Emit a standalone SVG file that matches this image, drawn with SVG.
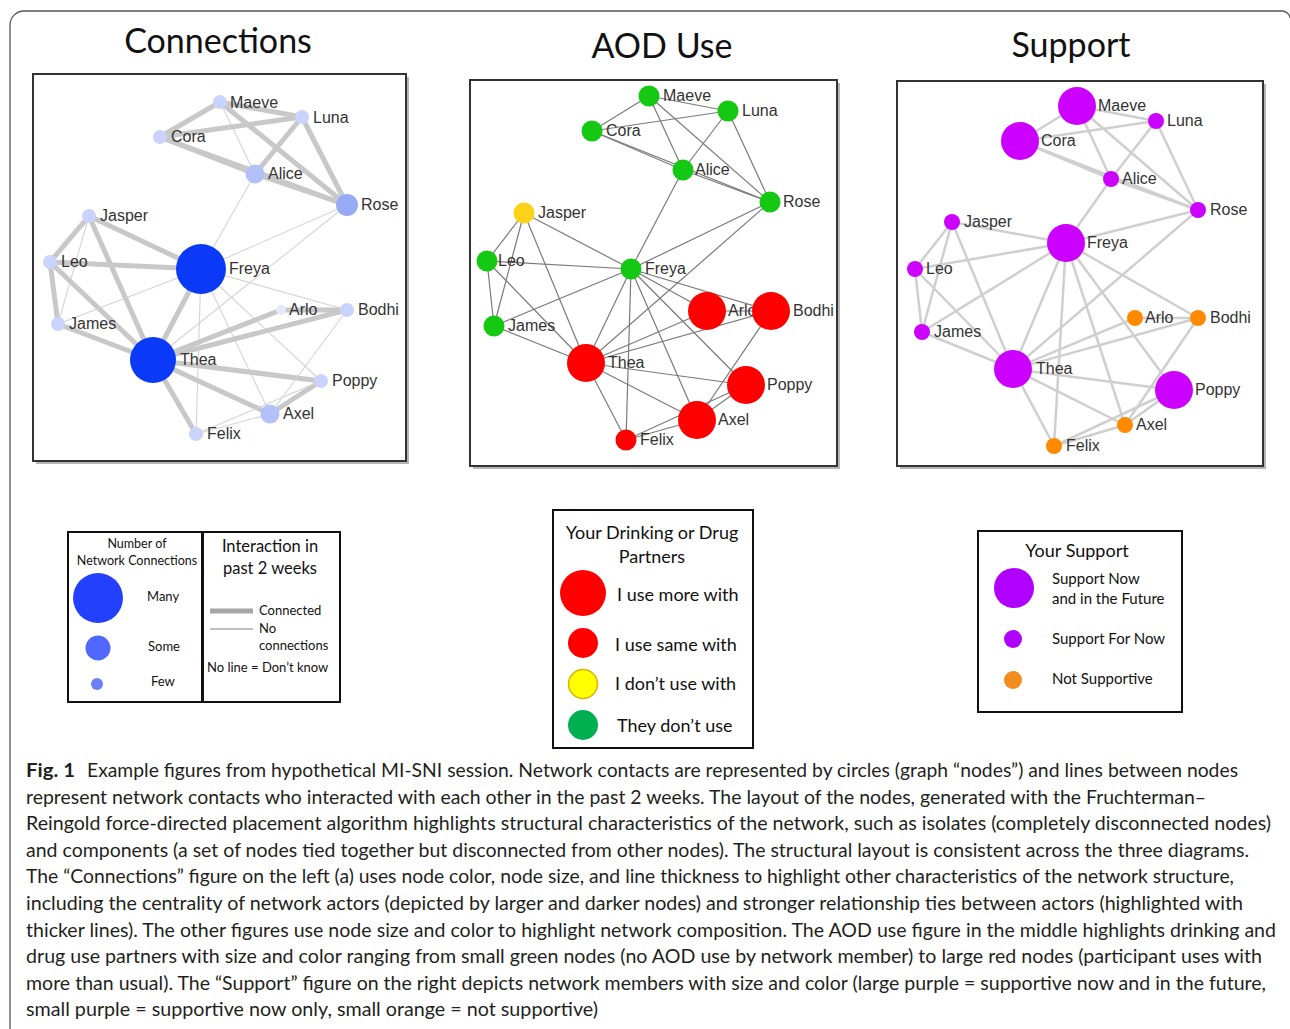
<svg xmlns="http://www.w3.org/2000/svg" width="1290" height="1029" viewBox="0 0 1290 1029">
<style>
.title{font-family:Lato,"Open Sans",sans-serif;font-size:34px;fill:#111;text-anchor:middle}
.lbl{font-family:"Liberation Sans",Arial,sans-serif;font-size:16px;fill:#333}
.panel{fill:#fff;stroke:#333;stroke-width:2}
.shadow{fill:#b5b5b5}
.thick{stroke:#c8c8c8;stroke-width:5;stroke-linecap:round}
.thin{stroke:#d4d4d4;stroke-width:1.1}
.aod{stroke:#7a7a7a;stroke-width:1.2}
.sup{stroke:#cfcfcf;stroke-width:2.5}
.leg{fill:#fff;stroke:#111;stroke-width:2}
.lt{font-family:Lato,"Open Sans",sans-serif;fill:#111}
.cap{font-family:Lato,"Open Sans",sans-serif;font-size:19px;fill:#231f20}
.c1s{fill:#c9d3fb}.c1m{fill:#b3c1f8}.c1r{fill:#97aaf6}.c1b{fill:#0a3af8}
.g{fill:#14c814}.r{fill:#ff0000}.y{fill:#ffd21a}
.p{fill:#cc00ff}.o{fill:#ff8a00}
</style>

<path d="M10,1029 V25 A14,14 0 0 1 24,11 H1282 A8,8 0 0 1 1290,18" fill="none" stroke="#555" stroke-width="1.3"/>

<text class="title" x="218" y="53">Connections</text>
<text class="title" x="662" y="58">AOD Use</text>
<text class="title" x="1071" y="57">Support</text>

<rect class="shadow" x="36" y="77" width="373" height="387"/>
<rect class="panel" x="33" y="74" width="373" height="387"/>
<rect class="shadow" x="473" y="83" width="367" height="386"/>
<rect class="panel" x="470" y="80" width="367" height="386"/>
<rect class="shadow" x="900" y="84" width="366" height="385"/>
<rect class="panel" x="897" y="81" width="366" height="385"/>

<g id="connectors">
<g id="edges-connections">
<line class="thick" x1="220" y1="102" x2="160" y2="137"/>
<line class="thick" x1="220" y1="102" x2="302" y2="117"/>
<line class="thin" x1="220" y1="102" x2="255" y2="174"/>
<line class="thick" x1="220" y1="102" x2="347" y2="205"/>
<line class="thick" x1="160" y1="137" x2="302" y2="117"/>
<line class="thick" x1="160" y1="137" x2="255" y2="174"/>
<line class="thick" x1="160" y1="137" x2="347" y2="205"/>
<line class="thick" x1="255" y1="174" x2="347" y2="205"/>
<line class="thick" x1="302" y1="117" x2="255" y2="174"/>
<line class="thick" x1="302" y1="117" x2="347" y2="205"/>
<line class="thin" x1="255" y1="174" x2="201" y2="269"/>
<line class="thin" x1="347" y1="205" x2="201" y2="269"/>
<line class="thin" x1="347" y1="205" x2="153" y2="360"/>
<line class="thick" x1="89" y1="216" x2="50" y2="262"/>
<line class="thin" x1="89" y1="216" x2="58" y2="324"/>
<line class="thick" x1="89" y1="216" x2="201" y2="269"/>
<line class="thick" x1="89" y1="216" x2="153" y2="360"/>
<line class="thick" x1="50" y1="262" x2="201" y2="269"/>
<line class="thick" x1="50" y1="262" x2="58" y2="324"/>
<line class="thick" x1="50" y1="262" x2="153" y2="360"/>
<line class="thin" x1="58" y1="324" x2="201" y2="269"/>
<line class="thick" x1="58" y1="324" x2="153" y2="360"/>
<line class="thick" x1="201" y1="269" x2="153" y2="360"/>
<line class="thin" x1="201" y1="269" x2="347" y2="310"/>
<line class="thin" x1="201" y1="269" x2="321" y2="381"/>
<line class="thin" x1="201" y1="269" x2="270" y2="414"/>
<line class="thin" x1="201" y1="269" x2="196" y2="434"/>
<line class="thick" x1="153" y1="360" x2="281" y2="310"/>
<line class="thick" x1="153" y1="360" x2="347" y2="310"/>
<line class="thick" x1="153" y1="360" x2="321" y2="381"/>
<line class="thick" x1="153" y1="360" x2="270" y2="414"/>
<line class="thick" x1="153" y1="360" x2="196" y2="434"/>
<line class="thick" x1="281" y1="310" x2="347" y2="310"/>
<line class="thin" x1="347" y1="310" x2="270" y2="414"/>
<line class="thick" x1="321" y1="381" x2="270" y2="414"/>
<line class="thin" x1="321" y1="381" x2="196" y2="434"/>
<line class="thin" x1="270" y1="414" x2="196" y2="434"/>
</g>
<g id="edges-aod">
<line class="aod" x1="649" y1="96" x2="592" y2="131"/>
<line class="aod" x1="649" y1="96" x2="728" y2="111"/>
<line class="aod" x1="649" y1="96" x2="683" y2="170"/>
<line class="aod" x1="649" y1="96" x2="770" y2="202"/>
<line class="aod" x1="592" y1="131" x2="728" y2="111"/>
<line class="aod" x1="592" y1="131" x2="683" y2="170"/>
<line class="aod" x1="592" y1="131" x2="770" y2="202"/>
<line class="aod" x1="683" y1="170" x2="770" y2="202"/>
<line class="aod" x1="728" y1="111" x2="683" y2="170"/>
<line class="aod" x1="728" y1="111" x2="770" y2="202"/>
<line class="aod" x1="683" y1="170" x2="631" y2="269"/>
<line class="aod" x1="770" y1="202" x2="631" y2="269"/>
<line class="aod" x1="770" y1="202" x2="586" y2="363"/>
<line class="aod" x1="524" y1="213" x2="487" y2="261"/>
<line class="aod" x1="524" y1="213" x2="494" y2="326"/>
<line class="aod" x1="524" y1="213" x2="631" y2="269"/>
<line class="aod" x1="524" y1="213" x2="586" y2="363"/>
<line class="aod" x1="487" y1="261" x2="631" y2="269"/>
<line class="aod" x1="487" y1="261" x2="494" y2="326"/>
<line class="aod" x1="487" y1="261" x2="586" y2="363"/>
<line class="aod" x1="494" y1="326" x2="631" y2="269"/>
<line class="aod" x1="494" y1="326" x2="586" y2="363"/>
<line class="aod" x1="631" y1="269" x2="586" y2="363"/>
<line class="aod" x1="631" y1="269" x2="707" y2="311"/>
<line class="aod" x1="631" y1="269" x2="771" y2="311"/>
<line class="aod" x1="631" y1="269" x2="746" y2="385"/>
<line class="aod" x1="631" y1="269" x2="697" y2="420"/>
<line class="aod" x1="631" y1="269" x2="626" y2="440"/>
<line class="aod" x1="586" y1="363" x2="707" y2="311"/>
<line class="aod" x1="586" y1="363" x2="771" y2="311"/>
<line class="aod" x1="586" y1="363" x2="746" y2="385"/>
<line class="aod" x1="586" y1="363" x2="697" y2="420"/>
<line class="aod" x1="586" y1="363" x2="626" y2="440"/>
<line class="aod" x1="707" y1="311" x2="771" y2="311"/>
<line class="aod" x1="771" y1="311" x2="697" y2="420"/>
<line class="aod" x1="746" y1="385" x2="697" y2="420"/>
<line class="aod" x1="746" y1="385" x2="626" y2="440"/>
<line class="aod" x1="697" y1="420" x2="626" y2="440"/>
</g>
<g id="edges-support">
<line class="sup" x1="1077" y1="106" x2="1020" y2="141"/>
<line class="sup" x1="1077" y1="106" x2="1156" y2="121"/>
<line class="sup" x1="1077" y1="106" x2="1111" y2="179"/>
<line class="sup" x1="1077" y1="106" x2="1198" y2="210"/>
<line class="sup" x1="1020" y1="141" x2="1156" y2="121"/>
<line class="sup" x1="1020" y1="141" x2="1111" y2="179"/>
<line class="sup" x1="1020" y1="141" x2="1198" y2="210"/>
<line class="sup" x1="1111" y1="179" x2="1198" y2="210"/>
<line class="sup" x1="1156" y1="121" x2="1111" y2="179"/>
<line class="sup" x1="1156" y1="121" x2="1198" y2="210"/>
<line class="sup" x1="1111" y1="179" x2="1066" y2="243"/>
<line class="sup" x1="1198" y1="210" x2="1066" y2="243"/>
<line class="sup" x1="1198" y1="210" x2="1013" y2="369"/>
<line class="sup" x1="952" y1="222" x2="915" y2="269"/>
<line class="sup" x1="952" y1="222" x2="922" y2="332"/>
<line class="sup" x1="952" y1="222" x2="1066" y2="243"/>
<line class="sup" x1="952" y1="222" x2="1013" y2="369"/>
<line class="sup" x1="915" y1="269" x2="1066" y2="243"/>
<line class="sup" x1="915" y1="269" x2="922" y2="332"/>
<line class="sup" x1="915" y1="269" x2="1013" y2="369"/>
<line class="sup" x1="922" y1="332" x2="1066" y2="243"/>
<line class="sup" x1="922" y1="332" x2="1013" y2="369"/>
<line class="sup" x1="1066" y1="243" x2="1013" y2="369"/>
<line class="sup" x1="1066" y1="243" x2="1198" y2="318"/>
<line class="sup" x1="1066" y1="243" x2="1174" y2="390"/>
<line class="sup" x1="1066" y1="243" x2="1125" y2="425"/>
<line class="sup" x1="1066" y1="243" x2="1054" y2="446"/>
<line class="sup" x1="1013" y1="369" x2="1135" y2="318"/>
<line class="sup" x1="1013" y1="369" x2="1198" y2="318"/>
<line class="sup" x1="1013" y1="369" x2="1174" y2="390"/>
<line class="sup" x1="1013" y1="369" x2="1125" y2="425"/>
<line class="sup" x1="1013" y1="369" x2="1054" y2="446"/>
<line class="sup" x1="1135" y1="318" x2="1198" y2="318"/>
<line class="sup" x1="1198" y1="318" x2="1125" y2="425"/>
<line class="sup" x1="1174" y1="390" x2="1125" y2="425"/>
<line class="sup" x1="1174" y1="390" x2="1054" y2="446"/>
<line class="sup" x1="1125" y1="425" x2="1054" y2="446"/>
</g>
</g>

<g id="nodes-connections">
<g id="c-maeve"><circle class="c1s" cx="220" cy="102" r="7"/><text class="lbl" x="230" y="108">Maeve</text></g>
<g id="c-luna"><circle class="c1s" cx="302" cy="117" r="7"/><text class="lbl" x="313" y="123">Luna</text></g>
<g id="c-cora"><circle class="c1s" cx="160" cy="137" r="7"/><text class="lbl" x="171" y="142">Cora</text></g>
<g id="c-alice"><circle class="c1m" cx="255" cy="174" r="9.5"/><text class="lbl" x="268" y="179">Alice</text></g>
<g id="c-rose"><circle class="c1r" cx="347" cy="205" r="11"/><text class="lbl" x="361" y="210">Rose</text></g>
<g id="c-jasper"><circle class="c1s" cx="89" cy="216" r="7"/><text class="lbl" x="100" y="221">Jasper</text></g>
<g id="c-leo"><circle class="c1s" cx="50" cy="262" r="7"/><text class="lbl" x="61" y="267">Leo</text></g>
<g id="c-freya"><circle class="c1b" cx="201" cy="269" r="25"/><text class="lbl" x="229" y="274">Freya</text></g>
<g id="c-arlo"><circle fill="#e3e8fd" cx="281" cy="310" r="5"/><text class="lbl" x="289" y="315">Arlo</text></g>
<g id="c-bodhi"><circle class="c1s" cx="347" cy="310" r="7"/><text class="lbl" x="358" y="315">Bodhi</text></g>
<g id="c-james"><circle class="c1s" cx="58" cy="324" r="7"/><text class="lbl" x="69" y="329">James</text></g>
<g id="c-thea"><circle class="c1b" cx="153" cy="360" r="23"/><text class="lbl" x="180" y="365">Thea</text></g>
<g id="c-poppy"><circle class="c1s" cx="321" cy="381" r="7"/><text class="lbl" x="332" y="386">Poppy</text></g>
<g id="c-axel"><circle class="c1m" cx="270" cy="414" r="9.5"/><text class="lbl" x="283" y="419">Axel</text></g>
<g id="c-felix"><circle class="c1s" cx="196" cy="434" r="7"/><text class="lbl" x="207" y="439">Felix</text></g>
</g>

<g id="nodes-aod">
<g id="a-maeve"><circle class="g" cx="649" cy="96" r="10.5"/><text class="lbl" x="663" y="101">Maeve</text></g>
<g id="a-luna"><circle class="g" cx="728" cy="111" r="10.5"/><text class="lbl" x="742" y="116">Luna</text></g>
<g id="a-cora"><circle class="g" cx="592" cy="131" r="10.5"/><text class="lbl" x="606" y="136">Cora</text></g>
<g id="a-alice"><circle class="g" cx="683" cy="170" r="10.5"/><text class="lbl" x="695" y="175">Alice</text></g>
<g id="a-rose"><circle class="g" cx="770" cy="202" r="10.5"/><text class="lbl" x="783" y="207">Rose</text></g>
<g id="a-jasper"><circle class="y" cx="524" cy="213" r="10.5"/><text class="lbl" x="538" y="218">Jasper</text></g>
<g id="a-leo"><circle class="g" cx="487" cy="261" r="10.5"/><text class="lbl" x="498" y="266">Leo</text></g>
<g id="a-freya"><circle class="g" cx="631" cy="269" r="10.5"/><text class="lbl" x="645" y="274">Freya</text></g>
<g id="a-arlo"><circle class="r" cx="707" cy="311" r="19"/><text class="lbl" x="728" y="316">Arlo</text></g>
<g id="a-bodhi"><circle class="r" cx="771" cy="311" r="19"/><text class="lbl" x="793" y="316">Bodhi</text></g>
<g id="a-james"><circle class="g" cx="494" cy="326" r="10.5"/><text class="lbl" x="508" y="331">James</text></g>
<g id="a-thea"><circle class="r" cx="586" cy="363" r="19"/><text class="lbl" x="608" y="368">Thea</text></g>
<g id="a-poppy"><circle class="r" cx="746" cy="385" r="19"/><text class="lbl" x="767" y="390">Poppy</text></g>
<g id="a-axel"><circle class="r" cx="697" cy="420" r="19"/><text class="lbl" x="718" y="425">Axel</text></g>
<g id="a-felix"><circle class="r" cx="626" cy="440" r="10.5"/><text class="lbl" x="640" y="445">Felix</text></g>
</g>

<g id="nodes-support">
<g id="s-maeve"><circle class="p" cx="1077" cy="106" r="19"/><text class="lbl" x="1098" y="111">Maeve</text></g>
<g id="s-luna"><circle class="p" cx="1156" cy="121" r="8"/><text class="lbl" x="1167" y="126">Luna</text></g>
<g id="s-cora"><circle class="p" cx="1020" cy="141" r="19"/><text class="lbl" x="1041" y="146">Cora</text></g>
<g id="s-alice"><circle class="p" cx="1111" cy="179" r="8"/><text class="lbl" x="1122" y="184">Alice</text></g>
<g id="s-rose"><circle class="p" cx="1198" cy="210" r="8"/><text class="lbl" x="1210" y="215">Rose</text></g>
<g id="s-jasper"><circle class="p" cx="952" cy="222" r="8"/><text class="lbl" x="964" y="227">Jasper</text></g>
<g id="s-freya"><circle class="p" cx="1066" cy="243" r="19"/><text class="lbl" x="1087" y="248">Freya</text></g>
<g id="s-leo"><circle class="p" cx="915" cy="269" r="8"/><text class="lbl" x="926" y="274">Leo</text></g>
<g id="s-arlo"><circle class="o" cx="1135" cy="318" r="8"/><text class="lbl" x="1145" y="323">Arlo</text></g>
<g id="s-bodhi"><circle class="o" cx="1198" cy="318" r="8"/><text class="lbl" x="1210" y="323">Bodhi</text></g>
<g id="s-james"><circle class="p" cx="922" cy="332" r="8"/><text class="lbl" x="934" y="337">James</text></g>
<g id="s-thea"><circle class="p" cx="1013" cy="369" r="19"/><text class="lbl" x="1036" y="374">Thea</text></g>
<g id="s-poppy"><circle class="p" cx="1174" cy="390" r="19"/><text class="lbl" x="1195" y="395">Poppy</text></g>
<g id="s-axel"><circle class="o" cx="1125" cy="425" r="8"/><text class="lbl" x="1136" y="430">Axel</text></g>
<g id="s-felix"><circle class="o" cx="1054" cy="446" r="8"/><text class="lbl" x="1066" y="451">Felix</text></g>
</g>

<g id="legend-connections">
<rect class="leg" x="68" y="532" width="134" height="170"/>
<rect class="leg" x="203" y="532" width="137" height="170"/>
<text class="lt" x="137" y="548" font-size="12.5" text-anchor="middle">Number of</text>
<text class="lt" x="137" y="565" font-size="12.5" text-anchor="middle">Network Connections</text>
<circle cx="98" cy="598" r="25" fill="#2340ff"/>
<circle cx="98" cy="648" r="12.5" fill="#5068ff"/>
<circle cx="97" cy="684" r="6" fill="#6c80ff"/>
<text class="lt" x="147" y="601" font-size="13">Many</text>
<text class="lt" x="148" y="651" font-size="13">Some</text>
<text class="lt" x="151" y="686" font-size="13">Few</text>
<text class="lt" x="270" y="552" font-size="16.5" text-anchor="middle">Interaction in</text>
<text class="lt" x="270" y="574" font-size="16.5" text-anchor="middle">past 2 weeks</text>
<line x1="210" y1="611" x2="253" y2="611" stroke="#a6a6a6" stroke-width="5"/>
<line x1="210" y1="629" x2="253" y2="629" stroke="#aaa" stroke-width="1.5"/>
<text class="lt" x="259" y="615" font-size="13">Connected</text>
<text class="lt" x="259" y="633" font-size="13">No</text>
<text class="lt" x="259" y="650" font-size="13">connections</text>
<text class="lt" x="207" y="672" font-size="13">No line = Don’t know</text>
</g>

<g id="legend-aod">
<rect class="leg" x="553" y="510" width="200" height="238" stroke-width="1.6"/>
<text class="lt" x="652" y="539" font-size="18" text-anchor="middle">Your Drinking or Drug</text>
<text class="lt" x="652" y="563" font-size="18" text-anchor="middle">Partners</text>
<circle cx="583" cy="593" r="23" fill="#ff0000"/>
<circle cx="583" cy="643" r="15" fill="#ff0000"/>
<circle cx="583" cy="684" r="14.5" fill="#ffff00" stroke="#d8b400" stroke-width="1.5"/>
<circle cx="583" cy="725" r="15" fill="#00b050"/>
<text class="lt" x="617" y="601" font-size="18">I use more with</text>
<text class="lt" x="615" y="651" font-size="18">I use same with</text>
<text class="lt" x="615" y="690" font-size="18">I don’t use with</text>
<text class="lt" x="617" y="732" font-size="18">They don’t use</text>
</g>

<g id="legend-support">
<rect class="leg" x="978" y="531" width="204" height="181" stroke-width="1.6"/>
<text class="lt" x="1077" y="557" font-size="18" text-anchor="middle">Your Support</text>
<circle cx="1014" cy="588" r="20" fill="#b000ff"/>
<circle cx="1013" cy="639" r="9" fill="#b000ff"/>
<circle cx="1013" cy="680" r="9" fill="#f28c1e"/>
<text class="lt" x="1052" y="584" font-size="15">Support Now</text>
<text class="lt" x="1052" y="604" font-size="15">and in the Future</text>
<text class="lt" x="1052" y="644" font-size="15">Support For Now</text>
<text class="lt" x="1052" y="684" font-size="15">Not Supportive</text>
</g>

<g id="caption">
<text class="cap" x="26" y="777" font-weight="bold" font-size="20" textLength="49" lengthAdjust="spacingAndGlyphs">Fig. 1</text>
<text class="cap" x="87" y="777" textLength="1151" lengthAdjust="spacingAndGlyphs">Example figures from hypothetical MI-SNI session. Network contacts are represented by circles (graph “nodes”) and lines between nodes</text>
<text class="cap" x="26" y="803.6" textLength="1180" lengthAdjust="spacingAndGlyphs">represent network contacts who interacted with each other in the past 2 weeks. The layout of the nodes, generated with the Fruchterman–</text>
<text class="cap" x="26" y="830.2" textLength="1245" lengthAdjust="spacingAndGlyphs">Reingold force-directed placement algorithm highlights structural characteristics of the network, such as isolates (completely disconnected nodes)</text>
<text class="cap" x="26" y="856.8" textLength="1223" lengthAdjust="spacingAndGlyphs">and components (a set of nodes tied together but disconnected from other nodes). The structural layout is consistent across the three diagrams.</text>
<text class="cap" x="26" y="883.4" textLength="1208" lengthAdjust="spacingAndGlyphs">The “Connections” figure on the left (a) uses node color, node size, and line thickness to highlight other characteristics of the network structure,</text>
<text class="cap" x="26" y="910" textLength="1217" lengthAdjust="spacingAndGlyphs">including the centrality of network actors (depicted by larger and darker nodes) and stronger relationship ties between actors (highlighted with</text>
<text class="cap" x="26" y="936.6" textLength="1250" lengthAdjust="spacingAndGlyphs">thicker lines). The other figures use node size and color to highlight network composition. The AOD use figure in the middle highlights drinking and</text>
<text class="cap" x="26" y="963.2" textLength="1236" lengthAdjust="spacingAndGlyphs">drug use partners with size and color ranging from small green nodes (no AOD use by network member) to large red nodes (participant uses with</text>
<text class="cap" x="26" y="989.8" textLength="1240" lengthAdjust="spacingAndGlyphs">more than usual). The “Support” figure on the right depicts network members with size and color (large purple = supportive now and in the future,</text>
<text class="cap" x="26" y="1016.4" textLength="572" lengthAdjust="spacingAndGlyphs">small purple = supportive now only, small orange = not supportive)</text>
</g>
</svg>
